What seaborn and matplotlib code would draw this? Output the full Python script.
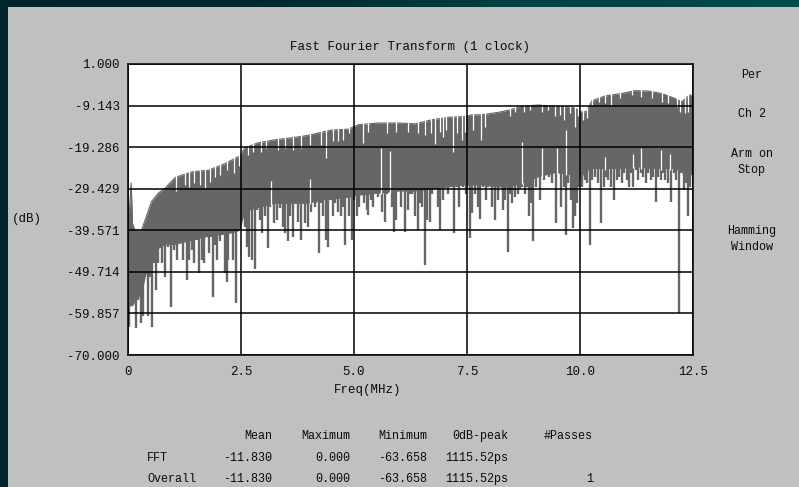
import numpy as np
import pandas as pd
import seaborn as sns
import matplotlib
matplotlib.use("Agg")
import matplotlib.pyplot as plt
from matplotlib.patches import Rectangle
from matplotlib.colors import LinearSegmentedColormap

# ---------------- data ----------------
env_freq = [0.00, 0.03, 0.07, 0.10, 0.15, 0.30, 0.38, 0.52, 0.67, 0.82, 1.04, 1.41,
            1.78, 2.15, 2.37, 2.48, 2.58, 2.88, 3.25, 3.62, 3.99, 4.30, 4.51, 4.87,
            5.10, 5.54, 5.98, 6.35, 6.72, 7.09, 7.46, 7.60, 7.82, 8.19, 8.45, 8.71,
            9.08, 9.45, 9.82, 9.93, 10.00, 10.07, 10.15, 10.26, 10.55, 10.92, 11.22,
            11.51, 11.81, 12.10, 12.25, 12.43, 12.50]
upper_db = [-35.4, -35.0, -28.0, -38.0, -39.5, -39.5, -37.0, -32.6, -30.5, -29.3, -26.7, -25.3,
            -24.9, -23.3, -22.0, -21.4, -19.5, -18.2, -17.5, -17.0, -16.4, -15.6, -15.1, -14.9,
            -13.8, -13.4, -13.4, -13.6, -12.6, -12.0, -11.8, -11.4, -11.4, -10.8, -10.2, -9.3,
            -9.0, -9.3, -9.5, -10.0, -10.6, -10.8, -10.5, -8.0, -6.8, -6.2, -5.5,
            -5.6, -6.2, -7.4, -8.2, -6.5, -7.0]
lower_db = [-58.0, -58.0, -58.0, -58.0, -57.0, -55.0, -51.0, -46.0, -44.0, -43.0, -43.0, -42.0,
            -41.0, -40.5, -40.0, -39.5, -35.0, -34.0, -33.0, -33.0, -33.0, -32.0, -32.0, -31.5,
            -31.0, -30.5, -30.0, -30.0, -29.5, -29.0, -28.5, -28.5, -28.5, -29.0, -29.0, -28.0,
            -26.5, -25.5, -26.0, -27.0, -27.0, -26.0, -25.0, -24.5, -24.5, -24.5, -24.0,
            -24.5, -24.5, -24.5, -25.5, -26.0, -26.0]

dip_freq = [0.02, 0.07, 0.12, 0.18, 0.23, 0.28, 0.34, 0.39, 0.44, 0.49, 0.52, 0.58, 0.61,
            0.67, 0.72, 0.76, 0.82, 0.88, 0.95, 1.02, 1.08, 1.15, 1.22, 1.30, 1.35, 1.41,
            1.46, 1.52, 1.57, 1.64, 1.69, 1.74, 1.79, 1.84, 1.87, 1.92, 1.98, 2.04, 2.09,
            2.15, 2.18, 2.22, 2.28, 2.33, 2.38, 2.44, 2.48, 2.59, 2.63, 2.68, 2.74, 2.80,
            2.85, 2.92, 2.97, 3.03, 3.09, 3.15, 3.22, 3.29, 3.36, 3.44, 3.47, 3.53, 3.58,
            3.66, 3.72, 3.77, 3.83, 3.92, 3.99, 4.05,
            4.14, 4.17, 4.23, 4.28, 4.32, 4.37, 4.42, 4.47, 4.54, 4.59, 4.65, 4.71, 4.76,
            4.80, 4.85, 4.90, 4.95, 5.01, 5.06, 5.11, 5.17, 5.23, 5.28, 5.32, 5.38, 5.43,
            5.48, 5.54, 5.61, 5.69, 5.74, 5.83, 5.89, 5.94, 6.00, 6.05, 6.13, 6.19, 6.24,
            6.29, 6.35, 6.41, 6.46, 6.51, 6.56, 6.61, 6.68, 6.73, 6.79, 6.85, 6.90, 6.98,
            7.03, 7.09, 7.15, 7.22, 7.27, 7.32, 7.38, 7.42, 7.47, 7.51, 7.57, 7.62, 7.68,
            7.74, 7.79, 7.86, 7.91, 7.97, 8.05, 8.12, 8.18, 8.23, 8.30,
            8.34, 8.40, 8.45, 8.50, 8.56, 8.62, 8.67, 8.72, 8.78, 8.83, 8.87, 8.92, 8.97,
            9.02, 9.06, 9.12, 9.17, 9.21, 9.26, 9.31, 9.37, 9.41, 9.46, 9.51, 9.54, 9.59,
            9.64, 9.68, 9.74, 9.79, 9.85, 9.89, 9.93, 9.98, 10.05, 10.10, 10.15, 10.22,
            10.27, 10.33, 10.39, 10.46, 10.52, 10.57, 10.63, 10.69, 10.76, 10.81, 10.86,
            10.92, 10.98, 11.03, 11.08, 11.13, 11.18, 11.23, 11.29, 11.35, 11.40, 11.45,
            11.51, 11.57, 11.62, 11.68, 11.73, 11.79, 11.84, 11.89, 11.95, 12.01, 12.07,
            12.12, 12.18, 12.23, 12.29, 12.34, 12.40, 12.44]
dip_db = [-63.1, -48.4, -56.6, -63.5, -56.6, -62.3, -60.6, -50.1, -60.6, -50.9, -63.1, -47.6, -54.1,
          -47.6, -41.1, -47.6, -50.9, -43.6, -58.2, -44.4, -46.8, -42.3, -46.8, -51.7, -46.8, -44.4,
          -47.6, -41.9, -50.1, -46.8, -47.6, -40.3, -45.2, -41.1, -55.8, -43.2, -46.8, -42.3, -40.3,
          -50.1, -52.1, -46.8, -40.3, -46.8, -57.4, -39.5, -38.7, -38.7, -43.6, -46.0, -46.8, -48.9,
          -34.6, -37.1, -40.3, -36.2, -44.0, -33.8, -37.9, -37.1, -34.2, -38.7, -40.3, -42.3, -36.2,
          -41.1, -33.0, -37.5, -41.9, -37.9, -38.7, -35.0,
          -33.8, -33.0, -45.0, -33.0, -36.2, -41.9, -43.6, -32.2, -36.2, -33.0, -35.0, -36.2, -33.8,
          -43.2, -30.6, -36.2, -41.9, -32.2, -36.2, -33.8, -29.7, -33.0, -34.6, -35.8, -32.2, -33.8,
          -29.7, -31.4, -35.0, -37.5, -30.6, -33.8, -39.9, -37.1, -28.9, -33.8, -39.9, -34.6, -30.6,
          -30.6, -36.2, -39.5, -33.0, -33.8, -48.0, -37.1, -37.5, -30.6, -28.1, -33.8, -39.5, -32.2,
          -28.9, -30.6, -28.9, -40.3, -28.9, -33.8, -27.3, -28.9, -30.6, -29.7, -41.5, -35.4, -30.6,
          -33.8, -36.7, -28.9, -32.2, -28.9, -33.8, -37.1, -32.2, -28.9, -34.6,
          -32.2, -44.8, -30.6, -33.0, -31.4, -30.6, -29.3, -28.9, -30.6, -28.9, -36.2, -33.0, -42.3,
          -28.9, -26.5, -32.2, -25.7, -27.3, -24.9, -26.5, -28.1, -24.0, -37.9, -23.2, -25.7, -33.8,
          -28.9, -40.7, -28.1, -32.2, -39.1, -36.2, -33.0, -28.9, -28.9, -27.3, -28.1, -43.2,
          -27.3, -26.5, -28.1, -37.9, -28.9, -26.5, -27.3, -28.9, -32.2, -27.3, -26.5,
          -28.1, -25.7, -27.3, -28.9, -25.7, -28.9, -24.9, -27.3, -25.7, -26.5, -28.1,
          -25.7, -27.3, -26.5, -32.6, -26.5, -27.3, -25.7, -27.3, -28.1, -32.6, -25.7,
          -27.3, -59.8, -25.7, -29.7, -28.1, -36.2, -28.9]

# white gaps reaching up from the lower edge of the band
notch_freq = [3.17, 4.03, 5.60, 5.80, 8.72, 9.15, 9.49, 9.70, 10.55, 11.18, 11.35, 11.80, 12.00]
notch_db = [-27.5, -27.0, -19.5, -20.2, -18.0, -19.5, -19.5, -15.1, -21.6, -21.0, -19.5, -20.0, -21.0]

# white gaps reaching down from the top edge of the band
top_gap_freq = [1.07, 1.25, 1.36, 1.47, 1.59, 1.70, 1.81, 1.92, 2.03, 2.18, 2.35, 2.46, 2.65,
                2.77, 2.95, 3.06, 3.32, 3.47, 3.65, 3.83, 4.02, 4.28, 4.37, 4.54, 4.65, 4.76,
                4.90, 5.20, 5.31, 5.72, 5.94, 6.20, 6.42, 6.56, 6.71, 6.80, 6.90, 6.97, 7.04,
                7.19, 7.27, 7.38, 7.45, 7.63, 7.80, 7.89, 8.45, 8.56, 8.75, 8.89, 9.15, 9.30,
                9.45, 9.56, 9.65, 9.78, 9.88, 9.95, 10.07, 10.15, 10.26, 10.41, 10.55, 10.69,
                10.89, 11.14, 11.36, 11.59, 11.81, 11.95, 12.14, 12.21, 12.32, 12.38]
top_gap_db = [-30.1, -28.5, -28.9, -28.1, -28.5, -29.3, -27.7, -26.5, -26.1, -24.9, -25.7, -24.0, -21.2,
              -20.4, -20.4, -19.6, -20.0, -19.6, -20.0, -19.6, -18.8, -18.8, -22.0, -17.9, -17.9, -17.5,
              -15.9, -18.2, -15.5, -15.9, -15.5, -15.5, -15.9, -16.3, -15.9, -18.4, -15.5, -16.7, -15.1,
              -20.4, -15.9, -17.5, -15.5, -15.1, -17.5, -14.3, -11.8, -10.6, -10.6, -10.2, -10.6, -10.2,
              -11.8, -11.4, -12.7, -11.0, -14.3, -11.8, -12.7, -12.2, -9.0, -8.2, -8.5, -9.0,
              -7.4, -6.6, -7.0, -7.4, -8.2, -8.5, -9.4, -10.6, -11.0, -10.6]

y_ticks = [1.000, -9.143, -19.286, -29.429, -39.571, -49.714, -59.857, -70.000]
x_ticks = [0, 2.5, 5.0, 7.5, 10.0, 12.5]
x_tick_labels = ["0", "2.5", "5.0", "7.5", "10.0", "12.5"]

side_labels = ["Per", "Ch 2", "Arm on\nStop", "Hamming\nWindow"]
table_cols = ["Mean", "Maximum", "Minimum", "0dB-peak", "#Passes"]
table_rows = ["FFT", "Overall"]
table_vals = [["-11.830", "0.000", "-63.658", "1115.52ps", ""],
              ["-11.830", "0.000", "-63.658", "1115.52ps", "1"]]

# ---------------- figure ----------------
W, H = 799, 487
sns.set_style("white")
plt.rcParams['font.family'] = ['Liberation Mono', 'DejaVu Sans Mono']
fig = plt.figure(figsize=(W / 100, H / 100), dpi=100)

# background (dark teal gradient + gray panel)
bg = fig.add_axes([0, 0, 1, 1], zorder=0)
grad = np.linspace(0, 1, 256)[None, :]
cm = LinearSegmentedColormap.from_list("teal", ["#00242a", "#00292d", "#004244", "#004a4a"])
bg.imshow(grad, aspect="auto", cmap=cm, extent=[0, 1, 0, 1])
bg.add_patch(Rectangle((8 / W, 0), 1 - 8 / W, 1 - 7 / H, facecolor="#c0c0c0", edgecolor="none"))
bg.set_xlim(0, 1); bg.set_ylim(0, 1); bg.axis("off")

ax = fig.add_axes([128 / W, 1 - 355 / H, 565 / W, 291 / H], zorder=1)
ax.set_facecolor("white")

df = pd.DataFrame({"freq": env_freq, "upper": upper_db, "lower": lower_db})
fill_col = "#666666"
ax.fill_between(df["freq"], df["lower"], df["upper"], color=fill_col, linewidth=0, zorder=1.5)
sns.lineplot(data=df, x="freq", y="upper", ax=ax, color=fill_col, linewidth=0.8, zorder=1.5)

dips = pd.DataFrame({"freq": dip_freq, "db": dip_db})
dip_top = np.interp(dips["freq"], env_freq, lower_db) + 1.0
ax.vlines(dips["freq"], dips["db"], dip_top, color=fill_col, linewidth=1.7, zorder=1.6)
notch_bot = np.interp(notch_freq, env_freq, lower_db)
ax.vlines(notch_freq, notch_bot - 0.3, notch_db, color="white", linewidth=0.9, zorder=2.2)
gap_top = np.interp(top_gap_freq, env_freq, upper_db) + 0.8
ax.vlines(top_gap_freq, top_gap_db, gap_top, color="white", linewidth=0.9, zorder=2.2)

ax.set_xlim(0, 12.5)
ax.set_ylim(-70, 1)
ax.set_xticks(x_ticks)
ax.set_xticklabels(x_tick_labels)
ax.set_yticks(y_ticks)
ax.set_yticklabels([f"{v:.3f}" for v in y_ticks])
ax.set_xlabel("")
ax.set_ylabel("")
ax.set_axisbelow(False)
ax.grid(True, color="black", linewidth=1.1)
ax.tick_params(axis="both", length=0, labelsize=9, colors="#0a0a0a")
ax.tick_params(axis="y", pad=6)
ax.tick_params(axis="x", pad=8)
for s in ax.spines.values():
    s.set_visible(True)
    s.set_color("black")
    s.set_linewidth(1.1)
    s.set_zorder(5)

def ftext(x, y, s, **kw):
    kw.setdefault("fontsize", 9)
    kw.setdefault("color", "#0a0a0a")
    fig.text(x / W, 1 - y / H, s, **kw)

ftext(410, 47, "Fast Fourier Transform (1 clock)", ha="center", va="center")
ftext(12, 219, "(dB)", ha="left", va="center")
ftext(368, 390, "Freq(MHz)", ha="center", va="center")

side_y = [75, 114, 162, 239]
for lab, yy in zip(side_labels, side_y):
    ftext(752, yy, lab, ha="center", va="center", fontsize=8.5, linespacing=1.5)

col_x = [272, 350, 427, 508, 593]
for lab, xx in zip(table_cols, col_x):
    ftext(xx, 436, lab, ha="right", va="center", fontsize=8.5)
row_y = [458, 479]
for r, yy in zip(range(len(table_rows)), row_y):
    ftext(147, yy, table_rows[r], ha="left", va="center", fontsize=8.5)
    for v, xx in zip(table_vals[r], col_x):
        ftext(xx, yy, v, ha="right", va="center", fontsize=8.5)

fig.savefig("out.png", dpi=100)
